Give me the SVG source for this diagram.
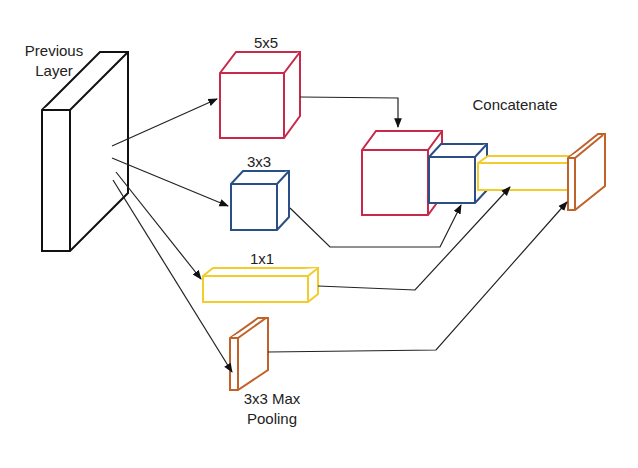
<svg xmlns="http://www.w3.org/2000/svg" width="638" height="468" viewBox="0 0 638 468">
<style>
text{font-family:"Liberation Sans",Arial,sans-serif;font-size:15px;fill:#222}
.k{fill:#fff;stroke:#111;stroke-width:2}
.r{fill:#fff;stroke:#c8284a;stroke-width:2}
.b{fill:#fff;stroke:#2a4f86;stroke-width:2}
.y{fill:#fff;stroke:#f2cc2a;stroke-width:2}
.o{fill:#fff;stroke:#c0622a;stroke-width:2}
.c{fill:none;stroke:#222;stroke-width:1.2;marker-end:url(#a)}
</style>
<defs><marker id="a" viewBox="0 0 10 10" refX="9" refY="5" markerWidth="8" markerHeight="8" orient="auto"><path d="M0,1L10,5L0,9z" fill="#111"/></marker></defs>
<rect width="638" height="468" fill="#fff"/>
<g id="prev"><path class="k" d="M42,110L100,52H128V193L70,251H42Z"/><path class="k" d="M42,110H70L128,52M70,110V251"/><text x="54" y="56" text-anchor="middle">Previous</text><text x="54" y="76" text-anchor="middle">Layer</text></g>
<g id="c5"><path class="r" d="M220,73L236,52H300V116L284,138H220Z"/><path class="r" d="M220,73H284L300,52M284,73V138"/><text x="266" y="48" text-anchor="middle">5x5</text></g>
<g id="c3"><path class="b" d="M231,184L243,171H289V217L277,230H231Z"/><path class="b" d="M231,184H277L289,171M277,184V230"/><text x="259" y="167" text-anchor="middle">3x3</text></g>
<g id="c1"><path class="y" d="M203,276L213,268H318V294L308,302H203Z"/><path class="y" d="M203,276H308L318,268M308,276V302"/><text x="262" y="264" text-anchor="middle">1x1</text></g>
<g id="pool"><path class="o" d="M230,338L258,318H268V370L238,390H230Z"/><path class="o" d="M230,338H238L266,318M238,338V390"/><text x="272" y="404" text-anchor="middle">3x3 Max</text><text x="272" y="424" text-anchor="middle">Pooling</text></g>
<g id="concat"><text x="515" y="110" text-anchor="middle">Concatenate</text>
<path class="r" d="M362,150L376,131H442V196L428,215H362Z"/><path class="r" d="M362,150H428L442,131M428,150V215"/>
<path class="b" d="M429,157L441,144H487V190L475,203H429Z"/><path class="b" d="M429,157H475L487,144M475,157V203"/>
<path class="y" d="M478,163L488,156H582V183L572,190H478Z"/><path class="y" d="M478,163H572L582,156M572,163V190"/>
<path class="o" d="M568,158L598,134H605V186L575,210H568Z"/><path class="o" d="M568,158H575L603,135M575,158V210"/></g>
<g id="connectors">
<path class="c" d="M112,146L217,99"/>
<path class="c" d="M112,158L228,206"/>
<path class="c" d="M116,172L201,279"/>
<path class="c" d="M113,180L232,372"/>
<path class="c" d="M300,97L398,98V127"/>
<path class="c" d="M290,208L330,247H440L461,205"/>
<path class="c" d="M318,286L415,290L510,187"/>
<path class="c" d="M268,352L436,350L567,202"/>
</g>
</svg>
